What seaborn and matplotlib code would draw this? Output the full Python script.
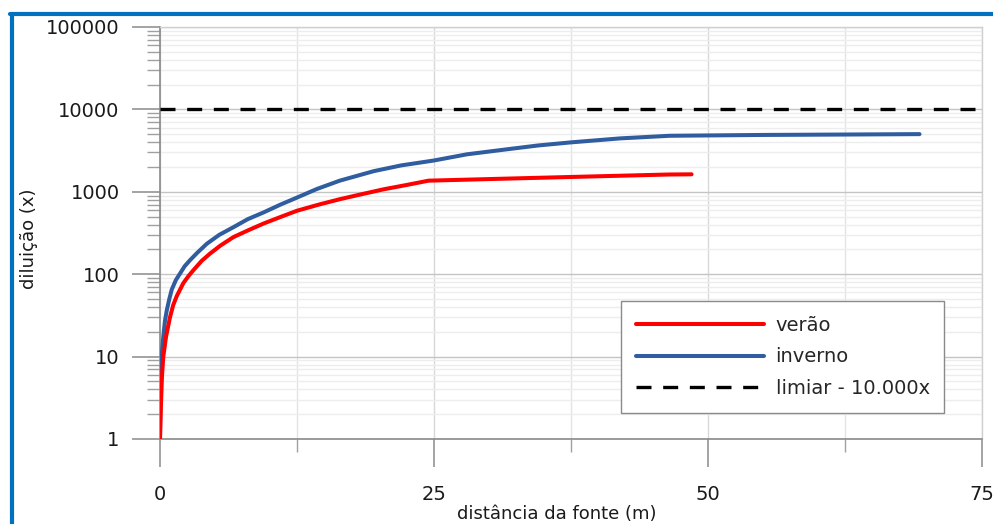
import numpy as np
import matplotlib
matplotlib.use("Agg")
import matplotlib.pyplot as plt
import seaborn as sns
from matplotlib.ticker import LogLocator, MultipleLocator, NullFormatter, FixedLocator, FixedFormatter
from matplotlib.lines import Line2D

# values: distance (m) -> dilution (x)
verao_dist = [0, 0.05, 0.09, 0.18, 0.3, 0.55, 0.91, 1.2, 1.52, 2.13, 2.6, 3.05, 3.8,
              4.57, 5.5, 6.7, 8.0, 9.45, 11.0, 12.5, 14.5, 16.4, 18.4, 20.4, 22.5,
              24.5, 31.6, 37.5, 46.5, 48.5]
verao_dil = [1, 1.8, 2.7, 5.8, 10, 17.4, 30, 42, 54, 78, 95, 112, 145,
             178, 222, 282, 339, 412, 495, 589, 700, 813, 935, 1072, 1210,
             1365, 1445, 1514, 1622, 1630]

inverno_dist = [0, 0.05, 0.15, 0.3, 0.45, 0.61, 0.85, 1.07, 1.45, 1.83, 2.25, 2.74,
                3.4, 4.27, 5.4, 6.7, 8.0, 9.45, 11.0, 12.5, 14.3, 16.4, 19.5, 22.0,
                25.0, 28.0, 31.6, 34.5, 37.5, 42.0, 46.5, 55.0, 62.5, 69.3]
inverno_dil = [1, 3, 10, 17.4, 27, 36, 50, 65, 85, 102, 125, 148,
               182, 234, 300, 372, 465, 562, 700, 851, 1080, 1365, 1780, 2090,
               2399, 2850, 3273, 3650, 3981, 4450, 4786, 4898, 4955, 5012]

limiar = 10000

x_ticks = [0, 25, 50, 75]
y_ticks = [1, 10, 100, 1000, 10000, 100000]
y_tick_labels = ["1", "10", "100", "1000", "10000", "100000"]

sns.set_theme(style="white")
plt.rcParams["font.family"] = ["DejaVu Sans"]
plt.rcParams.update({
    "font.size": 14,
    "axes.labelsize": 13,
    "xtick.labelsize": 14,
    "ytick.labelsize": 14,
    "legend.fontsize": 14,
})

fig = plt.figure(figsize=(9.93, 5.24), dpi=100)
ax = fig.add_axes([160 / 993, 1 - 439 / 524, 822 / 993, 412 / 524])

red = "#FF0000"
blue = "#2F5D9F"

sns.lineplot(x=verao_dist, y=verao_dil, ax=ax, color=red, lw=2.9,
             estimator=None, sort=False, label="verão", zorder=4)
sns.lineplot(x=inverno_dist, y=inverno_dil, ax=ax, color=blue, lw=2.9,
             estimator=None, sort=False, label="inverno", zorder=3)
ax.axhline(limiar, color="black", lw=2.4, dashes=(4.5, 3.5),
           label="limiar - 10.000x", zorder=5)

ax.set_yscale("log")
ax.set_xlim(0, 75)
ax.set_ylim(1, 100000)

ax.xaxis.set_major_locator(FixedLocator(x_ticks))
ax.xaxis.set_minor_locator(MultipleLocator(12.5))
ax.yaxis.set_major_locator(FixedLocator(y_ticks))
ax.yaxis.set_major_formatter(FixedFormatter(y_tick_labels))
ax.yaxis.set_minor_locator(LogLocator(base=10, subs=np.arange(2, 10)))
ax.yaxis.set_minor_formatter(NullFormatter())

# grid
ax.grid(which="major", axis="y", color="#c4c4c4", lw=1.0)
ax.grid(which="minor", axis="y", color="#ededed", lw=1.0)
ax.grid(which="major", axis="x", color="#d8d8d8", lw=1.0)
ax.grid(which="minor", axis="x", color="#e4e4e4", lw=1.0)
ax.set_axisbelow(True)

for side in ["left", "bottom"]:
    ax.spines[side].set_color("#8a8a8a")
    ax.spines[side].set_linewidth(1.2)
for side in ["top", "right"]:
    ax.spines[side].set_color("#d0d0d0")
    ax.spines[side].set_linewidth(1.0)

ax.tick_params(axis="both", which="major", direction="out", length=20, width=1.1,
               color="#8a8a8a", labelcolor="#1a1a1a", left=True, bottom=True)
ax.tick_params(axis="both", which="minor", direction="out", length=9.5, width=1.0,
               color="#a0a0a0", left=True, bottom=True)
ax.tick_params(axis="x", which="major", pad=13)
ax.tick_params(axis="y", which="major", pad=9)

ax.set_xlabel("distância da fonte (m)", color="#1a1a1a", va="top")
ax.set_ylabel("diluição (x)", color="#1a1a1a")
ax.xaxis.set_label_coords((557 - 160) / 822, (439 - 505) / 412)
ax.yaxis.set_label_coords((38 - 160) / 822, 0.485)

leg = ax.legend(loc="upper left", bbox_to_anchor=((621 - 160) / 822, (439 - 301) / 412),
                borderaxespad=0, frameon=True, fancybox=False, framealpha=1,
                edgecolor="#8a8a8a", handlelength=6.6, handletextpad=0.6,
                labelspacing=0.66, borderpad=0.75)
leg.get_frame().set_linewidth(1.0)

# blue frame around the picture
frame_kw = dict(color="#0070C0", lw=3, transform=fig.transFigure)
fig.add_artist(Line2D([11.5 / 993, 11.5 / 993], [1 - 13.5 / 524, -0.05], **frame_kw))
fig.add_artist(Line2D([10 / 993, 1.05], [1 - 13.5 / 524, 1 - 13.5 / 524], **frame_kw))

fig.savefig("out.png", dpi=100)
